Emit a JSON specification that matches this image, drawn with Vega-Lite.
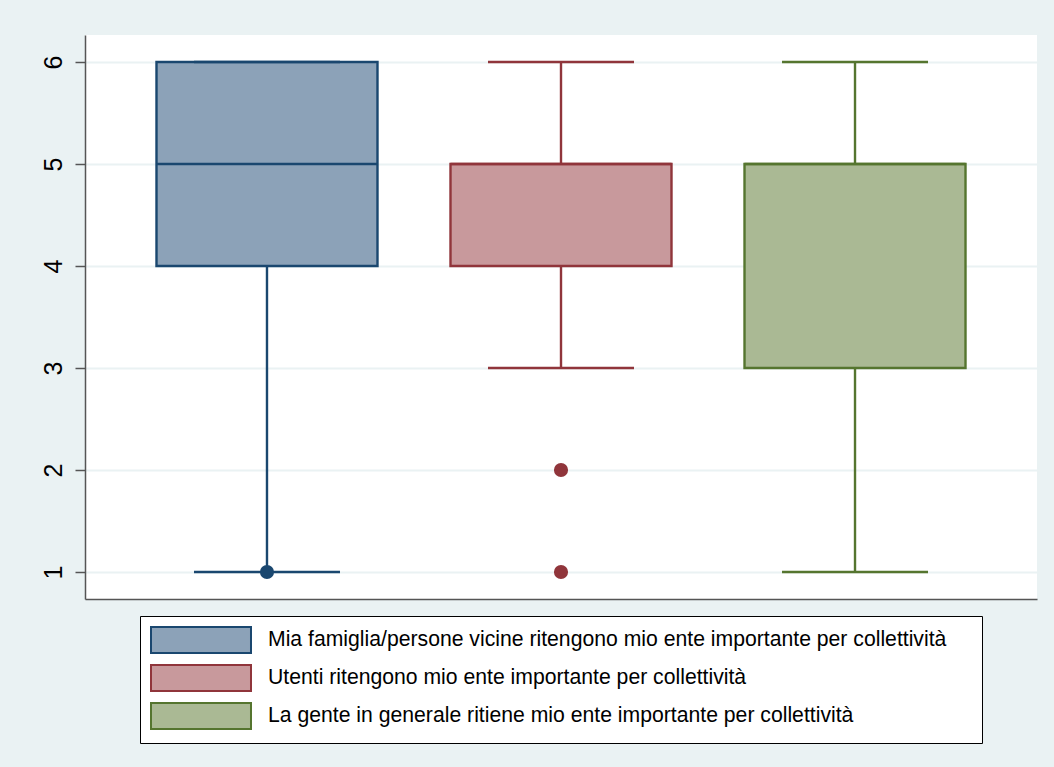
{
  "$schema": "https://vega.github.io/schema/vega-lite/v6.json",
  "width": 952,
  "height": 564,
  "autosize": {"type": "none"},
  "padding": {"left": 85, "top": 35, "right": 17, "bottom": 168},
  "background": "#EAF2F3",
  "config": {
    "font": "Liberation Sans",
    "view": {"fill": "white", "stroke": null}
  },
  "datasets": {
    "boxes": [
      {"group": "Mia famiglia/persone vicine ritengono mio ente importante per collettività", "lower": 1, "q1": 4, "median": 5, "q3": 6, "upper": 6},
      {"group": "Utenti ritengono mio ente importante per collettività", "lower": 3, "q1": 4, "median": 5, "q3": 5, "upper": 6},
      {"group": "La gente in generale ritiene mio ente importante per collettività", "lower": 1, "q1": 3, "median": 5, "q3": 5, "upper": 6}
    ],
    "outliers": [
      {"group": "Mia famiglia/persone vicine ritengono mio ente importante per collettività", "value": 1},
      {"group": "Utenti ritengono mio ente importante per collettività", "value": 2},
      {"group": "Utenti ritengono mio ente importante per collettività", "value": 1}
    ]
  },
  "encoding": {
    "x": {
      "field": "group",
      "type": "nominal",
      "sort": null,
      "scale": {
        "domain": [
          "Mia famiglia/persone vicine ritengono mio ente importante per collettività",
          "Utenti ritengono mio ente importante per collettività",
          "La gente in generale ritiene mio ente importante per collettività"
        ],
        "paddingInner": 0,
        "paddingOuter": 0.119
      },
      "axis": {"labels": false, "ticks": false, "title": null, "grid": false, "domainColor": "#555555", "domainWidth": 1.5}
    }
  },
  "layer": [
    {
      "data": {"name": "boxes"},
      "mark": {"type": "rule", "strokeWidth": 2.4},
      "encoding": {
        "y": {
          "field": "lower",
          "type": "quantitative",
          "scale": {"domain": [0.735, 6.265], "nice": false, "zero": false},
          "axis": {
            "values": [1, 2, 3, 4, 5, 6],
            "format": "d",
            "title": null,
            "grid": true,
            "gridColor": "#EAF2F3",
            "gridWidth": 2,
            "domainColor": "#555555",
            "domainWidth": 1.5,
            "tickColor": "#555555",
            "tickSize": 10,
            "tickWidth": 1.5,
            "labelAngle": -90,
            "labelAlign": "center",
            "labelBaseline": "bottom",
            "labelFontSize": 25,
            "labelPadding": 9,
            "labelColor": "black"
          }
        },
        "y2": {"field": "q1"},
        "color": {
          "field": "group",
          "type": "nominal",
          "scale": {
            "domain": [
              "La gente in generale ritiene mio ente importante per collettività",
              "Utenti ritengono mio ente importante per collettività",
              "Mia famiglia/persone vicine ritengono mio ente importante per collettività"
            ],
            "range": ["#55752F", "#90353B", "#1A476F"]
          },
          "legend": null
        }
      }
    },
    {
      "data": {"name": "boxes"},
      "mark": {"type": "rule", "strokeWidth": 2.4},
      "encoding": {
        "y": {"field": "q3", "type": "quantitative"},
        "y2": {"field": "upper"},
        "color": {"field": "group", "type": "nominal", "legend": null}
      }
    },
    {
      "data": {"name": "boxes"},
      "mark": {"type": "bar", "size": 221, "strokeWidth": 2.4, "opacity": 1},
      "encoding": {
        "y": {"field": "q1", "type": "quantitative"},
        "y2": {"field": "q3"},
        "fill": {
          "field": "group",
          "type": "nominal",
          "scale": {
            "domain": [
              "Mia famiglia/persone vicine ritengono mio ente importante per collettività",
              "Utenti ritengono mio ente importante per collettività",
              "La gente in generale ritiene mio ente importante per collettività"
            ],
            "range": ["#8CA2B8", "#C8999C", "#AAB994"]
          },
          "legend": {
            "title": " ",
            "titleOrient": "right",
            "titleFontSize": 1,
            "titlePadding": 26,
            "orient": "none",
            "legendX": 55,
            "legendY": 581,
            "direction": "vertical",
            "symbolType": "M-3.846,-1H3.846V1H-3.846Z",
            "symbolSize": 676,
            "symbolStrokeWidth": 2,
            "symbolOpacity": 1,
            "symbolOffset": 37,
            "rowPadding": 4,
            "labelFontSize": 21.2,
            "labelFont": "Liberation Sans",
            "labelColor": "black",
            "labelOffset": 53,
            "labelLimit": 0,
            "strokeColor": "black",
            "fillColor": "white",
            "padding": 10
          }
        },
        "stroke": {
          "field": "group",
          "type": "nominal",
          "scale": {
            "domain": [
              "Mia famiglia/persone vicine ritengono mio ente importante per collettività",
              "Utenti ritengono mio ente importante per collettività",
              "La gente in generale ritiene mio ente importante per collettività"
            ],
            "range": ["#1A476F", "#90353B", "#55752F"]
          },
          "legend": {
            "title": " ",
            "titleOrient": "right",
            "titleFontSize": 1,
            "titlePadding": 26,
            "orient": "none",
            "legendX": 55,
            "legendY": 581,
            "direction": "vertical",
            "symbolType": "M-3.846,-1H3.846V1H-3.846Z",
            "symbolSize": 676,
            "symbolStrokeWidth": 2,
            "symbolOpacity": 1,
            "symbolOffset": 37,
            "rowPadding": 4,
            "labelFontSize": 21.2,
            "labelFont": "Liberation Sans",
            "labelColor": "black",
            "labelOffset": 53,
            "labelLimit": 0,
            "strokeColor": "black",
            "fillColor": "white",
            "padding": 10
          }
        }
      }
    },
    {
      "data": {"name": "boxes"},
      "mark": {"type": "tick", "size": 221, "thickness": 2.4, "opacity": 1},
      "encoding": {
        "y": {"field": "median", "type": "quantitative"},
        "color": {"field": "group", "type": "nominal", "legend": null}
      }
    },
    {
      "data": {"name": "boxes"},
      "mark": {"type": "tick", "size": 146, "thickness": 2.4, "opacity": 1},
      "encoding": {
        "y": {"field": "lower", "type": "quantitative"},
        "color": {"field": "group", "type": "nominal", "legend": null}
      }
    },
    {
      "data": {"name": "boxes"},
      "mark": {"type": "tick", "size": 146, "thickness": 2.4, "opacity": 1},
      "encoding": {
        "y": {"field": "upper", "type": "quantitative"},
        "color": {"field": "group", "type": "nominal", "legend": null}
      }
    },
    {
      "data": {"name": "outliers"},
      "mark": {"type": "point", "filled": true, "shape": "circle", "size": 200, "opacity": 1},
      "encoding": {
        "y": {"field": "value", "type": "quantitative"},
        "color": {"field": "group", "type": "nominal", "legend": null}
      }
    }
  ]
}
